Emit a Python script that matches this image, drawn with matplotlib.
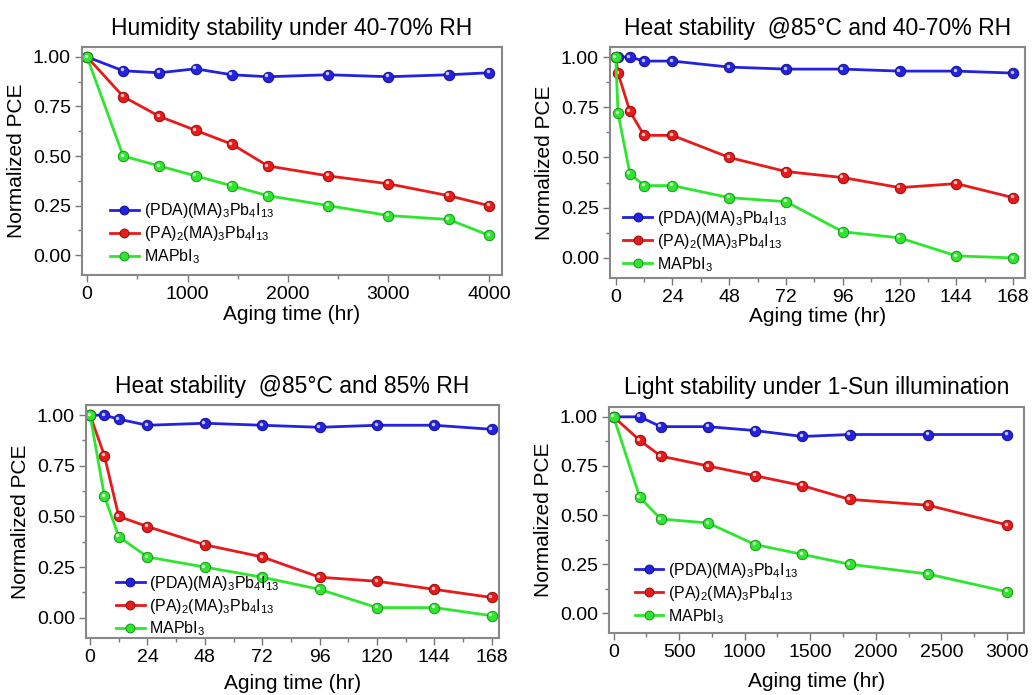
import matplotlib
matplotlib.use("Agg")
import matplotlib.pyplot as plt
from matplotlib.ticker import MultipleLocator
import matplotlib.transforms as mtransforms

plt.rcParams["font.family"] = ["Liberation Sans", "DejaVu Sans"]
plt.rcParams["mathtext.default"] = "regular"

# ==========================================================
# Data
# ==========================================================

labels = [
    r"(PDA)(MA)$_3$Pb$_4$I$_{13}$",
    r"(PA)$_2$(MA)$_3$Pb$_4$I$_{13}$",
    r"MAPbI$_3$",
]

titles = [
    "Humidity stability under 40-70% RH",
    "Heat stability  @85°C and 40-70% RH",
    "Heat stability  @85°C and 85% RH",
    "Light stability under 1-Sun illumination",
]

# humidity (hr)
hum_x = [0, 360, 720, 1080, 1440, 1800, 2400, 3000, 3600, 4000]
hum_pda = [1.00, 0.93, 0.92, 0.94, 0.91, 0.90, 0.91, 0.90, 0.91, 0.92]
hum_pa = [1.00, 0.80, 0.70, 0.63, 0.56, 0.45, 0.40, 0.36, 0.30, 0.25]
hum_ma = [1.00, 0.50, 0.45, 0.40, 0.35, 0.30, 0.25, 0.20, 0.18, 0.10]

# heat 85C, 40-70% RH (hr)
heat1_x = [0, 1, 6, 12, 24, 48, 72, 96, 120, 144, 168]
heat1_pda = [1.00, 1.00, 1.00, 0.98, 0.98, 0.95, 0.94, 0.94, 0.93, 0.93, 0.92]
heat1_pa = [1.00, 0.92, 0.73, 0.61, 0.61, 0.50, 0.43, 0.40, 0.35, 0.37, 0.30]
heat1_ma = [1.00, 0.72, 0.42, 0.36, 0.36, 0.30, 0.28, 0.13, 0.10, 0.01, 0.00]

# heat 85C, 85% RH (hr)
heat2_x = [0, 6, 12, 24, 48, 72, 96, 120, 144, 168]
heat2_pda = [1.00, 1.00, 0.98, 0.95, 0.96, 0.95, 0.94, 0.95, 0.95, 0.93]
heat2_pa = [1.00, 0.80, 0.50, 0.45, 0.36, 0.30, 0.20, 0.18, 0.14, 0.10]
heat2_ma = [1.00, 0.60, 0.40, 0.30, 0.25, 0.20, 0.14, 0.05, 0.05, 0.01]

# light soaking (hr)
light_x = [0, 200, 360, 720, 1080, 1440, 1800, 2400, 3000]
light_pda = [1.00, 1.00, 0.95, 0.95, 0.93, 0.90, 0.91, 0.91, 0.91]
light_pa = [1.00, 0.88, 0.80, 0.75, 0.70, 0.65, 0.58, 0.55, 0.45]
light_ma = [1.00, 0.59, 0.48, 0.46, 0.35, 0.30, 0.25, 0.20, 0.11]

colors = ["#2222e0", "#e81a1a", "#2ee62e"]
edges = ["#12128a", "#900c0c", "#1a901a"]

# ==========================================================
# Figure
# ==========================================================

fig = plt.figure(figsize=(10.33, 6.95), dpi=100)

W, H = 1033.0, 695.0
boxes = [
    (82, 47, 502, 275),
    (610, 47, 1025, 278),
    (86, 405, 499, 638),
    (609, 407, 1024, 633),
]

panels = [
    (hum_x, [hum_pda, hum_pa, hum_ma], (-50, 4130), 1000, 500),
    (heat1_x, [heat1_pda, heat1_pa, heat1_ma], (-2.4, 173), 24, 12),
    (heat2_x, [heat2_pda, heat2_pa, heat2_ma], (-1.7, 171), 24, 12),
    (light_x, [light_pda, light_pa, light_ma], (-35, 3130), 500, 250),
]

legend_anchor = [(0.04, -0.01), (0.005, -0.03), (0.045, -0.05), (0.035, -0.017)]
xlabel_pad = [1, 1, 6, 8]

for i, (box, panel) in enumerate(zip(boxes, panels)):
    x0, y0, x1, y1 = box
    ax = fig.add_axes([x0 / W, 1 - y1 / H, (x1 - x0) / W, (y1 - y0) / H])
    xs, series, xlim, major, minor = panel

    hl = mtransforms.offset_copy(ax.transData, fig=fig, x=-1.0, y=1.0, units="points")

    for ys, c, e, lab in zip(series, colors, edges, labels):
        ax.plot(xs, ys, color=c, lw=2, marker="o", ms=7.5,
                mfc=c, mec=e, mew=0.7, label=lab)
        ax.plot(xs, ys, ls="none", marker="o", ms=2.5, mfc="white",
                mec="none", alpha=0.75, transform=hl)

    ax.set_xlim(*xlim)
    ax.set_ylim(-0.1, 1.05)
    ax.xaxis.set_major_locator(MultipleLocator(major))
    ax.xaxis.set_minor_locator(MultipleLocator(minor))
    ax.yaxis.set_minor_locator(MultipleLocator(0.125))
    ax.set_yticks([0, 0.25, 0.5, 0.75, 1.0])
    ax.set_yticklabels(["0.00", "0.25", "0.50", "0.75", "1.00"])

    ax.tick_params(which="major", direction="out", length=5, width=1,
                   color="#777777", labelsize=14, pad=3)
    ax.tick_params(which="minor", direction="out", length=3, width=1,
                   color="#777777")
    for sp in ax.spines.values():
        sp.set_color("#888888")
        sp.set_linewidth(1.5)

    ax.set_xlabel("Aging time (hr)", fontsize=15, labelpad=xlabel_pad[i])
    ax.set_ylabel("Normalized PCE", fontsize=15, labelpad=5)
    ax.set_title(titles[i], fontsize=16.5, pad=9)

    ax.legend(loc="lower left", bbox_to_anchor=legend_anchor[i], frameon=False,
              fontsize=11.5, handlelength=1.8, handletextpad=0.3,
              labelspacing=0.25, markerscale=0.85, borderaxespad=0.3)

plt.savefig("out.png", dpi=100)
plt.close()
